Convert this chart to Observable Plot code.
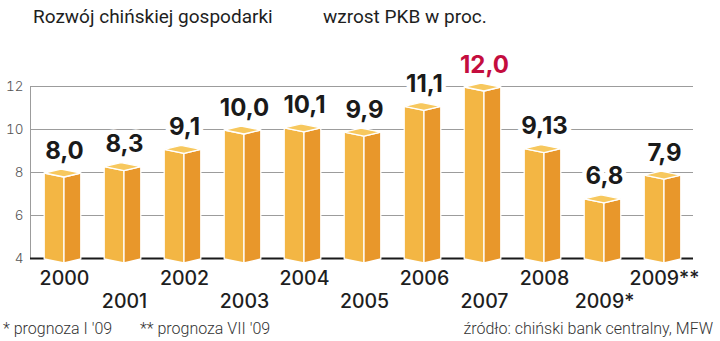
<!DOCTYPE html>
<html>
<head>
<meta charset="utf-8">
<script src="https://cdn.jsdelivr.net/npm/d3@7"></script>
<script src="https://cdn.jsdelivr.net/npm/@observablehq/plot@0.6"></script>
<style>
  html, body { margin: 0; padding: 0; background: #fff; }
  #wrap { position: relative; width: 720px; height: 341px; overflow: hidden; font-family: Roboto, "DejaVu Sans", sans-serif; }
  .t { position: absolute; white-space: nowrap; }
  .title { font-size: 19px; line-height: 19px; color: #1e1e1e; top: 7px; }
  .foot { font-size: 16px; line-height: 16px; color: #333; top: 321px; font-weight: 300; }
  #chart { position: absolute; left: 0; top: 40px; }
</style>
</head>
<body>
<div id="wrap">
  <div class="t title" style="left:33px">Rozwój chińskiej gospodarki</div>
  <div class="t title" style="left:323px">wzrost PKB w proc.</div>
  <div id="chart"></div>
  <div class="t foot" style="left:3px">* prognoza I '09</div>
  <div class="t foot" style="left:140px">** prognoza VII '09</div>
  <div class="t foot" style="right:7px">źródło: chiński bank centralny, MFW</div>
</div>
<script>
const years = ["2000","2001","2002","2003","2004","2005","2006","2007","2008","2009*","2009**"];
const growth = [8.0, 8.3, 9.1, 10.0, 10.1, 9.9, 11.1, 12.0, 9.13, 6.8, 7.9];
const growthLabels = ["8,0","8,3","9,1","10,0","10,1","9,9","11,1","12,0","9,13","6,8","7,9"];
const yTicks = [4, 6, 8, 10, 12];
const highlightYear = "2007";

const data = years.map((label, i) => ({label, value: growth[i], text: growthLabels[i], i}));
const base = yTicks[0];

const cFront = "#f3b644", cSide = "#e8972b", cTop = "#f7c85e";

function boxRender(index, scales) {
  const {x, y} = scales;
  const bw = x.bandwidth();
  const fw = bw * 0.33, sw = bw * 0.28, dl = 1, dj = 5;
  const y0 = y(base);
  const g = d3.create("svg:g");
  for (const i of index) {
    const d = data[i];
    const X = x(d.label) + bw / 2;
    const Y = y(d.value);
    const poly = (pts, fill) => g.append("polygon")
      .attr("points", pts.map(p => p.join(",")).join(" "))
      .attr("fill", fill)
      .attr("stroke", "#fff")
      .attr("stroke-width", 1.3)
      .attr("stroke-linejoin", "round");
    poly([[X - fw, Y + dl], [X, Y + dj], [X, y0 + dj], [X - fw, y0 + dl]], cFront);
    poly([[X, Y + dj], [X + sw, Y + dl], [X + sw, y0 + dl], [X, y0 + dj]], cSide);
    poly([[X - fw, Y + dl], [X, Y + dj], [X + sw, Y + dl], [X - fw + sw, Y + 2 * dl - dj]], cTop);
  }
  return g.node();
}

const even = data.filter(d => d.i % 2 === 0);
const odd = data.filter(d => d.i % 2 === 1);

const chart = Plot.plot({
  width: 720,
  height: 275,
  marginLeft: 30,
  marginRight: 23,
  marginTop: 46,
  marginBottom: 57,
  style: {fontFamily: "Inter, 'DejaVu Sans', sans-serif", background: "transparent"},
  x: {type: "band", domain: years, padding: 0, axis: null},
  y: {domain: [4, 12], axis: null},
  marks: [
    Plot.ruleY(yTicks.slice(1), {stroke: "#9c9c9c", strokeWidth: 1, insetRight: 4}),
    Plot.frame({anchor: "left", stroke: "#9c9c9c"}),
    Plot.ruleY([base], {stroke: "#1a1a1a", strokeWidth: 2, insetRight: 4}),
    Plot.axisY(yTicks, {label: null, tickSize: 0, tickPadding: 7, fontSize: 13.5, fontWeight: 300, fill: "#555", textAnchor: "end"}),
    Plot.barY(data, {x: "label", y: "value", render: boxRender}),
    Plot.text(data, {
      x: "label", y: "value", text: "text", dy: -14, lineAnchor: "bottom",
      fontSize: 24, fontWeight: 700,
      fill: d => d.label === highlightYear ? "#c40d3e" : "#1a1a1a",
      stroke: "#fff", strokeWidth: 9, paintOrder: "stroke"
    }),
    Plot.text(even, {x: "label", y: () => base, text: "label", dy: 26, lineAnchor: "bottom",
      fontSize: 19.5, fontWeight: 500, fill: "#1e1e1e"}),
    Plot.text(odd, {x: "label", y: () => base, text: "label", dy: 49, lineAnchor: "bottom",
      fontSize: 19.5, fontWeight: 500, fill: "#1e1e1e"})
  ]
});
document.getElementById("chart").appendChild(chart);
</script>
</body>
</html>
